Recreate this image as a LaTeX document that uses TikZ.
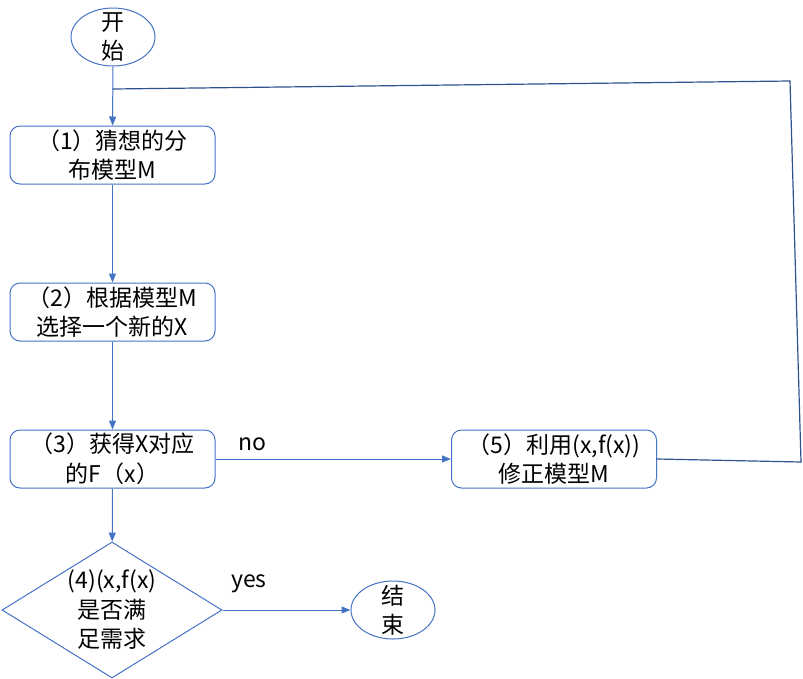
\documentclass[tikz,border=0pt]{standalone}
\usepackage{fontspec}
\newfontfamily\cjk{Noto Sans CJK SC}
\usetikzlibrary{shapes.geometric,arrows.meta}
\definecolor{lineblue}{RGB}{68,114,196}
\definecolor{loopblue}{RGB}{47,82,143}
\tikzset{
  every node/.style={font=\cjk\fontsize{23pt}{29.5pt}\selectfont, text=black},
  flowline/.style={draw=lineblue, line width=1pt},
  arr/.style={flowline, -{Triangle[length=9pt,width=7pt]}},
  loopline/.style={draw=loopblue, line width=1.2pt},
  stepbox/.style={rectangle, draw=lineblue, line width=1pt, rounded corners=10pt,
    minimum width=205pt, minimum height=58pt, align=center, inner sep=0pt},
  terminal/.style={ellipse, draw=lineblue, line width=1pt, minimum width=84pt,
    minimum height=58pt, align=center, inner xsep=0pt, inner ysep=-9pt},
  decision/.style={diamond, draw=lineblue, line width=1pt, minimum width=220pt,
    minimum height=136pt, align=center, inner sep=0pt, inner ysep=-8pt, aspect=1.6},
  edgelabel/.style={inner sep=0pt},
}
\begin{document}
\begin{tikzpicture}[x=1pt,y=-1pt]
\useasboundingbox (0,0) rectangle (803,678);
\node[terminal] (start) at (113,37) {开\\始};
\node[stepbox] (b1) at (112.5,155) {（1）猜想的分\\布模型M};
\node[stepbox] (b2) at (112.5,312) {（2）根据模型M\\选择一个新的X};
\node[stepbox] (b3) at (112.5,459) {（3）获得X对应\\的F（x）};
\node[stepbox] (b5) at (554,459) {（5）利用(x,f(x))\\修正模型M};
\node[decision] (dia) at (112,610) {(4)(x,f(x)\\是否满\\足需求};
\node[terminal] (end) at (393,610) {结\\束};
\node[edgelabel] (nolab) at (252,444) {no};
\node[edgelabel] (yeslab) at (249,584) {yes};
\coordinate (c1) at (801,462);
\coordinate (c2) at (790,81);
\coordinate (join) at (112.5,89);
\draw[arr] (start) -- (b1);
\draw[arr] (b1) -- (b2);
\draw[arr] (b2) -- (b3);
\draw[arr] (b3) -- (dia);
\draw[arr] (b3) -- (b5);
\draw[arr] (dia) -- (end);
\draw[loopline] (b5.east) -- (c1) -- (c2) -- (join);
\end{tikzpicture}
\end{document}
